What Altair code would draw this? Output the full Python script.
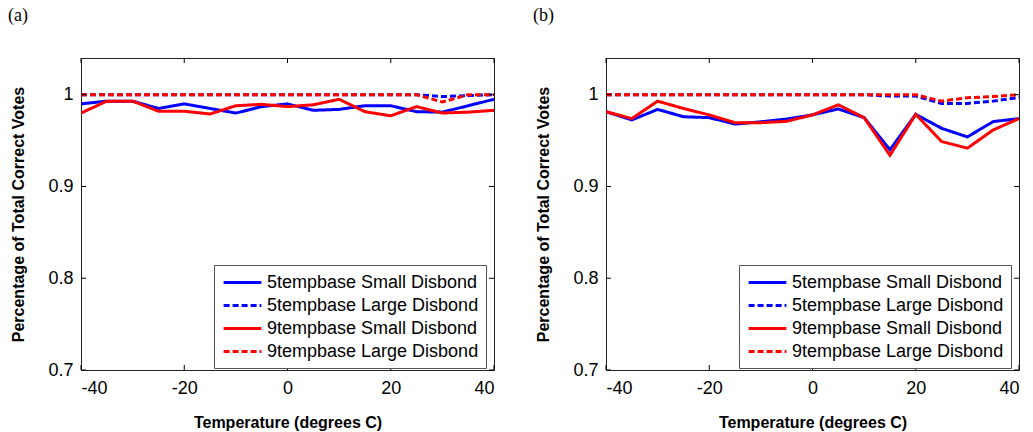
import altair as alt
import pandas as pd

temps = [-40, -35, -30, -25, -20, -15, -10, -5, 0, 5, 10, 15, 20, 25, 30, 35, 40]

series_names = ["5tempbase Small Disbond", "5tempbase Large Disbond",
                "9tempbase Small Disbond", "9tempbase Large Disbond"]
series_colors = ["#0000ff", "#0000ff", "#ff0000", "#ff0000"]
series_dash = [[1, 0], [6, 3], [1, 0], [6, 3]]

# panel (a)
a_5_small = [0.990, 0.993, 0.993, 0.985, 0.990, 0.985, 0.980, 0.987, 0.990, 0.983, 0.984, 0.988, 0.988, 0.9815, 0.981, 0.988, 0.995]
a_5_large = [1.0, 1.0, 1.0, 1.0, 1.0, 1.0, 1.0, 1.0, 1.0, 1.0, 1.0, 1.0, 1.0, 1.0, 0.998, 0.999, 1.0]
a_9_small = [0.980, 0.993, 0.993, 0.982, 0.982, 0.979, 0.988, 0.9895, 0.987, 0.989, 0.995, 0.9815, 0.977, 0.987, 0.980, 0.981, 0.983]
a_9_large = [1.0, 1.0, 1.0, 1.0, 1.0, 1.0, 1.0, 1.0, 1.0, 1.0, 1.0, 1.0, 1.0, 1.0, 0.992, 1.0, 1.0]

# panel (b)
b_5_small = [0.9815, 0.9725, 0.984, 0.976, 0.975, 0.968, 0.9705, 0.9735, 0.978, 0.9845, 0.975, 0.940, 0.9786, 0.9634, 0.954, 0.9707, 0.974]
b_5_large = [1.0, 1.0, 1.0, 1.0, 1.0, 1.0, 1.0, 1.0, 1.0, 1.0, 1.0, 0.9985, 0.9985, 0.9905, 0.9905, 0.993, 0.997]
b_9_small = [0.9815, 0.974, 0.993, 0.985, 0.978, 0.9695, 0.9695, 0.971, 0.978, 0.989, 0.975, 0.934, 0.9786, 0.949, 0.9417, 0.9616, 0.974]
b_9_large = [1.0, 1.0, 1.0, 1.0, 1.0, 1.0, 1.0, 1.0, 1.0, 1.0, 1.0, 1.0, 1.0, 0.993, 0.9967, 0.998, 1.0]

x_ticks = [-40, -20, 0, 20, 40]
y_ticks = [0.7, 0.8, 0.9, 1.0]
x_domain = [-40, 40]
y_domain = [0.7, 1.04]

W, H = 413, 312
TICK_PX = 5


def long_df(series_lists):
    rows = []
    for name, vals in zip(series_names, series_lists):
        for t, v in zip(temps, vals):
            rows.append({"temp": t, "value": v, "series": name})
    return pd.DataFrame(rows)


def tick_df():
    dx = TICK_PX * (x_domain[1] - x_domain[0]) / W
    dy = TICK_PX * (y_domain[1] - y_domain[0]) / H
    rows = []
    for t in x_ticks:
        rows.append({"temp": t, "temp2": t, "value": y_domain[0], "value2": y_domain[0] + dy})
        rows.append({"temp": t, "temp2": t, "value": y_domain[1], "value2": y_domain[1] - dy})
    for v in y_ticks:
        rows.append({"temp": x_domain[0], "temp2": x_domain[0] + dx, "value": v, "value2": v})
        rows.append({"temp": x_domain[1], "temp2": x_domain[1] - dx, "value": v, "value2": v})
    return pd.DataFrame(rows)


def x_enc():
    return alt.X("temp:Q", scale=alt.Scale(domain=x_domain, nice=False, zero=False),
                 axis=alt.Axis(values=x_ticks, title="Temperature (degrees C)",
                               labelExpr="'' + datum.value", labelPadding=9,
                               titlePadding=17))


def y_enc():
    return alt.Y("value:Q", scale=alt.Scale(domain=y_domain, nice=False, zero=False),
                 axis=alt.Axis(values=y_ticks, title="Percentage of Total Correct Votes",
                               format="~g", labelPadding=8, titlePadding=21))


def panel(series_lists, label):
    df = long_df(series_lists)
    leg = alt.Legend(title=None, orient="none", legendX=133, legendY=207,
                     symbolType="M-2.1,0H2.1", symbolStrokeWidth=3, symbolSize=324,
                     symbolOffset=11, labelOffset=14, labelLimit=0,
                     labelFontSize=18, labelFont="Liberation Sans", labelColor="black",
                     strokeColor="#555555", fillColor="white", padding=7,
                     rowPadding=3)
    lines = alt.Chart(df).mark_line(strokeWidth=3, clip=True).encode(
        x=x_enc(), y=y_enc(),
        color=alt.Color("series:N", sort=series_names,
                        scale=alt.Scale(domain=series_names, range=series_colors),
                        legend=leg),
        strokeDash=alt.StrokeDash("series:N", sort=series_names,
                                  scale=alt.Scale(domain=series_names, range=series_dash),
                                  legend=leg),
    )
    ticks = alt.Chart(tick_df()).mark_rule(color="black", strokeWidth=1).encode(
        x=x_enc(), x2="temp2:Q", y=y_enc(), y2="value2:Q")
    return alt.layer(lines, ticks).properties(
        width=W, height=H,
        title=alt.TitleParams(label, anchor="start", frame="bounds", font="Liberation Serif",
                              fontSize=18, fontWeight="normal", color="black",
                              offset=33, dx=-3),
    )


pa = panel([a_5_small, a_5_large, a_9_small, a_9_large], "(a)")
pb = panel([b_5_small, b_5_large, b_9_small, b_9_large], "(b)")

chart = alt.hconcat(pa, pb, spacing=37).resolve_scale(
    color="independent", strokeDash="independent"
).properties(
    padding={"left": 7, "top": 6, "right": 5, "bottom": 0}
).configure(font="Liberation Sans").configure_view(
    stroke="#222222", strokeWidth=1
).configure_axis(
    domain=False, ticks=False, grid=False, labelFontSize=18, titleFontSize=16,
    titleFontWeight="bold", labelColor="black", titleColor="black",
    labelFont="Liberation Sans", titleFont="Liberation Sans"
)

chart.save("out.html", embed_options={"renderer": "svg", "actions": False})
